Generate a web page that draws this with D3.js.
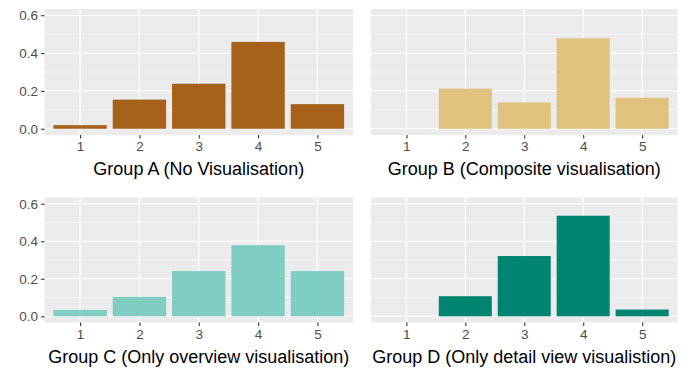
<!DOCTYPE html>
<html><head><meta charset="utf-8">
<script src="https://cdn.jsdelivr.net/npm/d3@7"></script>
<style>
html,body{margin:0;padding:0;background:#fff;}
svg{display:block;font-family:"Liberation Sans",Arial,sans-serif;}
</style></head><body>
<svg id="c" width="694" height="371"></svg>
<script>
const categories = [1, 2, 3, 4, 5];
const yTicks = [0.0, 0.2, 0.4, 0.6];
const yMinor = [0.1, 0.3, 0.5];
const groupTitles = ["Group A (No Visualisation)", "Group B (Composite visualisation)", "Group C (Only overview visualisation)", "Group D (Only detail view visualistion)"];
const groupColors = ["#a6611a", "#dfc27d", "#80cdc1", "#018571"];
const valuesA = [0.019, 0.154, 0.238, 0.459, 0.130];
const valuesB = [0.0, 0.212, 0.139, 0.478, 0.164];
const valuesC = [0.034, 0.103, 0.241, 0.379, 0.241];
const valuesD = [0.0, 0.107, 0.321, 0.536, 0.036];
const groupValues = [valuesA, valuesB, valuesC, valuesD];

const svg = d3.select("#c");
const panels = [
  {x0: 44.5, x1: 353, y0: 9, y1: 135, showY: true},
  {x0: 371, x1: 677.5, y0: 9, y1: 135, showY: false},
  {x0: 44.5, x1: 353, y0: 197.5, y1: 322.5, showY: true},
  {x0: 371, x1: 677.5, y0: 197.5, y1: 322.5, showY: false}
];

panels.forEach((p, gi) => {
  const x = d3.scaleLinear().domain([0.4, 5.6]).range([p.x0, p.x1]);
  const y = d3.scaleLinear().domain([-0.033, 0.633]).range([p.y1, p.y0]);
  const g = svg.append("g");
  g.append("rect").attr("x", p.x0).attr("y", p.y0).attr("width", p.x1 - p.x0).attr("height", p.y1 - p.y0).attr("fill", "#ebebeb");
  g.selectAll(".ymin").data(yMinor).join("line")
    .attr("x1", p.x0).attr("x2", p.x1).attr("y1", d => y(d)).attr("y2", d => y(d))
    .attr("stroke", "#fff").attr("stroke-width", 0.55);
  g.selectAll(".ymaj").data(yTicks).join("line")
    .attr("x1", p.x0).attr("x2", p.x1).attr("y1", d => y(d)).attr("y2", d => y(d))
    .attr("stroke", "#fff").attr("stroke-width", 1.1);
  g.selectAll(".xmaj").data(categories).join("line")
    .attr("y1", p.y0).attr("y2", p.y1).attr("x1", d => x(d)).attr("x2", d => x(d))
    .attr("stroke", "#fff").attr("stroke-width", 1.1);
  g.selectAll(".bar").data(groupValues[gi]).join("rect")
    .attr("x", (d, i) => x(categories[i] - 0.45))
    .attr("width", (d, i) => x(categories[i] + 0.45) - x(categories[i] - 0.45))
    .attr("y", d => y(d)).attr("height", d => y(0) - y(d))
    .attr("fill", groupColors[gi]);

  const xa = g.append("g").attr("transform", `translate(0,${p.y1})`)
    .call(d3.axisBottom(x).tickValues(categories).tickFormat(d3.format("d")).tickSize(3.5).tickPadding(3));
  xa.select(".domain").remove();
  xa.selectAll("line").attr("stroke", "#333").attr("stroke-width", 1.1);
  xa.selectAll("text").attr("fill", "#4d4d4d").style("font-size", "13.5px");

  if (p.showY) {
    const ya = g.append("g").attr("transform", `translate(${p.x0},0)`)
      .call(d3.axisLeft(y).tickValues(yTicks).tickFormat(d3.format(".1f")).tickSize(3.5).tickPadding(3));
    ya.select(".domain").remove();
    ya.selectAll("line").attr("stroke", "#333").attr("stroke-width", 1.1);
    ya.selectAll("text").attr("fill", "#4d4d4d").style("font-size", "13.5px");
  }

  g.append("text").attr("x", (p.x0 + p.x1) / 2).attr("y", p.y1 + 40)
    .attr("text-anchor", "middle").attr("fill", "#000").style("font-size", "18px")
    .text(groupTitles[gi]);
});
</script>
</body></html>
